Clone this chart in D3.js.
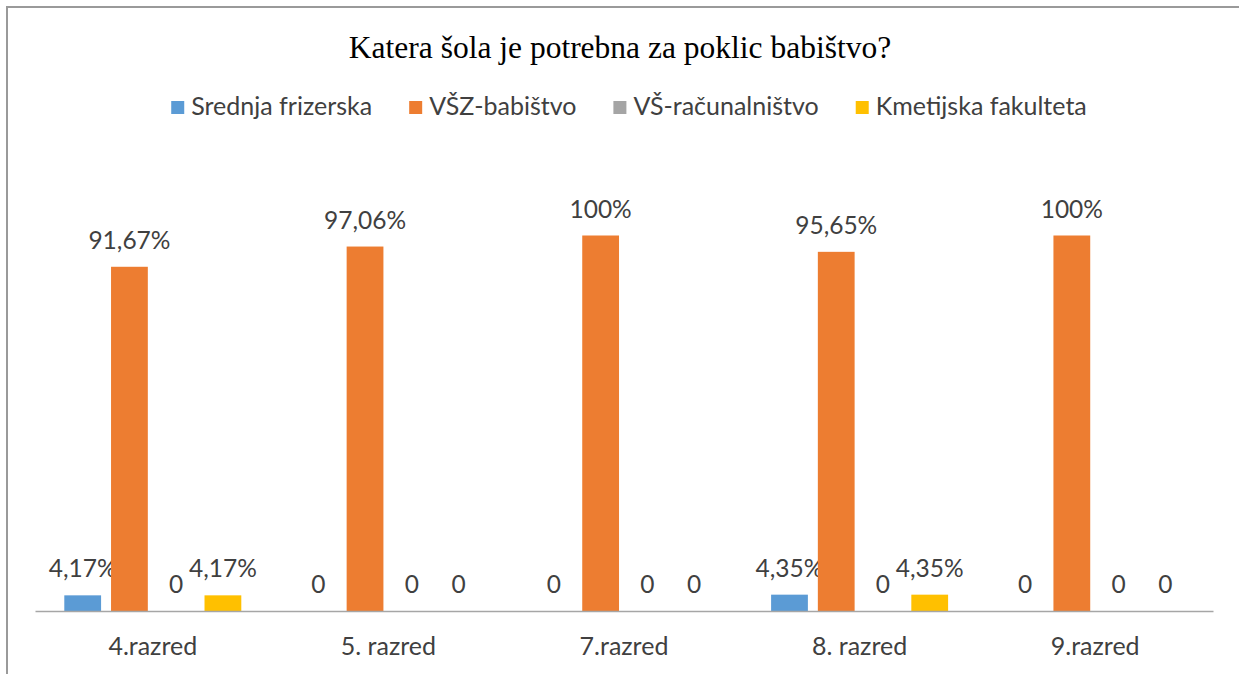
<!DOCTYPE html>
<html>
<head>
<meta charset="utf-8">
<script src="https://cdn.jsdelivr.net/npm/d3@7"></script>
<style>
  html, body { margin: 0; padding: 0; background: #fff; }
  svg { display: block; }
</style>
</head>
<body>
<div id="chart"></div>
<script>
const categories = ['4.razred', '5. razred', '7.razred', '8. razred', '9.razred'];
const seriesNames = ['Srednja frizerska', 'VŠZ-babištvo', 'VŠ-računalništvo', 'Kmetijska fakulteta'];
const srednjaFrizerska = [4.17, 0, 0, 4.35, 0];
const vszBabistvo = [91.67, 97.06, 100, 95.65, 100];
const vsRacunalnistvo = [0, 0, 0, 0, 0];
const kmetijskaFakulteta = [4.17, 0, 0, 4.35, 0];
const colors = ['#5B9BD5', '#ED7D31', '#A5A5A5', '#FFC000'];
const titleText = 'Katera šola je potrebna za poklic babištvo?';

class MyBarChart {
    constructor(_config, _data) {
        this.config = {
            parentElement: _config.parentElement,
            containerWidth: _config.containerWidth || 1239,
            containerHeight: _config.containerHeight || 674,
            margin: _config.margin || { top: 235.5, right: 26, bottom: 63, left: 35 }
        };
        this.data = _data;
        this.initVis();
    }

    initVis() {
        let vis = this;
        const m = vis.config.margin;
        vis.width = vis.config.containerWidth - m.left - m.right;
        vis.height = vis.config.containerHeight - m.top - m.bottom;

        vis.svg = d3.select(vis.config.parentElement)
            .append('svg')
            .attr('width', vis.config.containerWidth)
            .attr('height', vis.config.containerHeight);

        // chart frame (runs off the right and bottom of the picture)
        vis.svg.append('rect')
            .attr('x', 7).attr('y', 7)
            .attr('width', 1260).attr('height', 700)
            .attr('fill', 'none')
            .attr('stroke', '#9a9a9a')
            .attr('stroke-width', 2);

        vis.svg.append('text')
            .attr('x', 620)
            .attr('y', 58)
            .attr('text-anchor', 'middle')
            .style('font', '31.5px "Liberation Serif", serif')
            .attr('fill', '#000')
            .text(titleText);

        // legend
        const legend = vis.svg.append('g');
        const gap = 37;
        let lx = 0;
        seriesNames.forEach((name, i) => {
            const item = legend.append('g').attr('transform', `translate(${lx},0)`);
            item.append('rect')
                .attr('x', 0).attr('y', -14)
                .attr('width', 13).attr('height', 13)
                .attr('fill', colors[i]);
            const t = item.append('text')
                .attr('x', 20).attr('y', 0)
                .style('font', '25px Lato, sans-serif')
                .attr('fill', '#404040')
                .text(name);
            lx += 20 + t.node().getComputedTextLength() + gap;
        });
        lx -= gap;
        legend.attr('transform', `translate(${629 - lx / 2},115)`);

        vis.g = vis.svg.append('g')
            .attr('transform', `translate(${m.left},${m.top})`);

        vis.x0 = d3.scaleBand()
            .domain(categories)
            .range([0, vis.width]);

        vis.x1 = d3.scaleBand()
            .domain(seriesNames)
            .range([29.3, vis.x0.bandwidth() - 29.3])
            .paddingInner(0.213);

        vis.y = d3.scaleLinear()
            .domain([0, 100])
            .range([vis.height, 0]);

        vis.updateVis();
    }

    updateVis() {
        let vis = this;

        const groups = vis.g.selectAll('.cat')
            .data(categories)
            .join('g')
            .attr('class', 'cat')
            .attr('transform', d => `translate(${vis.x0(d)},0)`);

        const cells = groups.selectAll('.cell')
            .data((c, ci) => seriesNames.map((s, si) => ({ s, si, v: vis.data[si][ci] })))
            .join('g')
            .attr('class', 'cell');

        cells.append('rect')
            .attr('x', d => vis.x1(d.s))
            .attr('y', d => vis.y(d.v))
            .attr('width', vis.x1.bandwidth())
            .attr('height', d => vis.height - vis.y(d.v))
            .attr('fill', d => colors[d.si]);

        cells.append('text')
            .attr('x', d => vis.x1(d.s) + vis.x1.bandwidth() / 2)
            .attr('y', d => vis.y(d.v) - 18)
            .attr('text-anchor', 'middle')
            .style('font', '24.5px Lato, sans-serif')
            .attr('fill', '#404040')
            .text(d => vis.formatLabel(d.v));

        // category axis
        const xAxis = d3.axisBottom(vis.x0).tickSize(0).tickPadding(0);
        const ax = vis.g.append('g')
            .attr('transform', `translate(0,${vis.height})`)
            .call(xAxis);
        ax.select('.domain')
            .attr('stroke', '#a6a6a6')
            .attr('stroke-width', 1.5);
        ax.selectAll('text')
            .attr('dy', null)
            .attr('y', 44)
            .style('font', '25px Lato, sans-serif')
            .attr('fill', '#404040');
    }

    formatLabel(v) {
        if (v === 0) return '0';
        if (Number.isInteger(v)) return v + '%';
        return v.toFixed(2).replace('.', ',') + '%';
    }
}

new MyBarChart({ parentElement: '#chart' },
    [srednjaFrizerska, vszBabistvo, vsRacunalnistvo, kmetijskaFakulteta]);
</script>
</body>
</html>
